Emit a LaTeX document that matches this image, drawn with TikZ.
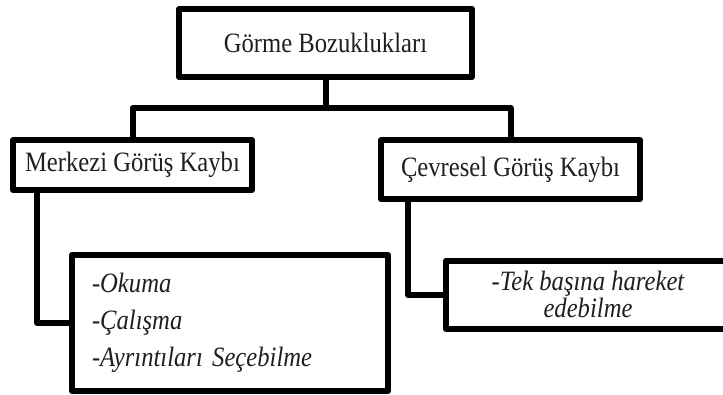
\documentclass[tikz,border=0pt]{standalone}
\usepackage{fontspec}
\setmainfont{Liberation Serif}[FakeStretch=0.88]
\begin{document}
\begin{tikzpicture}[x=1pt,y=-1pt,
  box/.style={draw=black,line width=6pt,line join=round,fill=white,inner sep=0pt,
    font=\fontsize{28}{29}\selectfont,text=black!88},
  conn/.style={draw=black,line width=6pt,line join=round}]
\useasboundingbox (0,0) rectangle (723,394);
\clip (0,0) rectangle (723,394);
% boxes
\node[box,minimum width=293pt,minimum height=68pt] (top) at (325.5,43) {Görme Bozuklukları};
\node[box,minimum width=239pt,minimum height=50pt] (mk) at (132.5,165) {Merkezi Görüş Kaybı};
\node[box,minimum width=259pt,minimum height=59pt] (cv) at (510.5,169.5) {\raisebox{6pt}{Çevresel Görüş Kaybı}};
\node[box,minimum width=316pt,minimum height=136pt,text width=276pt,align=left,
  font=\fontsize{28}{37}\selectfont\itshape] (ll) at (230,323)
  {-Okuma\\-Çalışma\\-Ayrıntıları Seçebilme};
\node[box,minimum width=284pt,minimum height=68.5pt,align=center,
  font=\fontsize{28}{27}\selectfont\itshape] (tk) at (588,294.75)
  {-Tek başına hareket\\edebilme};
% connectors
\coordinate (j) at (325.5,108);
\draw[conn] (top.south) -- (j);
\draw[conn] (mk.north) |- (j) -| (cv.north);
\draw[conn] ([xshift=-95.5pt]mk.south) |- (ll.west);
\draw[conn] ([xshift=-102.5pt]cv.south) |- (tk.west);
\end{tikzpicture}
\end{document}
